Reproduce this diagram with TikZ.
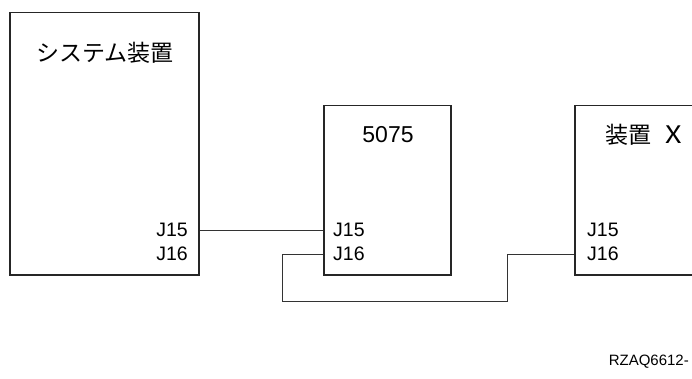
\documentclass[tikz,border=0pt]{standalone}
\usepackage{fontspec}
\setmainfont{Liberation Sans}
\newfontfamily\cjk{Noto Sans CJK JP}
\usetikzlibrary{positioning}

\begin{document}
\begin{tikzpicture}[x=1pt, y=-1pt,
		unitbox/.style={draw=black!85, line width=1.4pt, inner sep=0pt},
		title/.style={font=\fontsize{23}{23}\selectfont, inner sep=0pt},
		port/.style={font=\fontsize{19.5}{19.5}\selectfont, inner sep=0pt},
		cable/.style={draw=black!80, line width=0.9pt}]
	\path[use as bounding box, clip] (0,0) rectangle (692,378);

	% Блоки
	\node[unitbox, minimum width=189pt, minimum height=262.5pt] (sys) at (104.5,143.75) {};
	\node[unitbox, minimum width=127pt, minimum height=169.5pt] (mod) at (387.5,190.25) {};
	\node[unitbox, minimum width=160pt, minimum height=169.5pt] (dev) at (655,190.25) {};

	% Заголовки
	\node[title] (systitle) at (105,53) {\cjk システム装置};
	\node[title] (modtitle) at (388,135) {5075};
	\node[title, anchor=west] (devtitle) at (605,135) {\cjk 装置\hspace{14pt}\scalebox{1.25}[1.05]{X}};

	% Разъёмы
	\node[port, anchor=east] (sysJ15) at (188,230) {J15};
	\node[port, anchor=east] (sysJ16) at (188,254) {J16};
	\node[port, anchor=west] (modJ15) at (333,230) {J15};
	\node[port, anchor=west] (modJ16) at (333,254) {J16};
	\node[port, anchor=west] (devJ15) at (587,230) {J15};
	\node[port, anchor=west] (devJ16) at (587,254) {J16};

	% Кабели
	\coordinate (bendL) at (282,301);
	\coordinate (bendR) at (507,301);
	\draw[cable] (sys.east |- sysJ15) -- (mod.west |- modJ15);
	\draw[cable] (mod.west |- modJ16) -| (bendL) -- (bendR) |- (dev.west |- devJ16);

	\node[font=\fontsize{15}{15}\selectfont, inner sep=0pt, anchor=east] (code) at (689,362) {RZAQ6612-};
\end{tikzpicture}
\end{document}
